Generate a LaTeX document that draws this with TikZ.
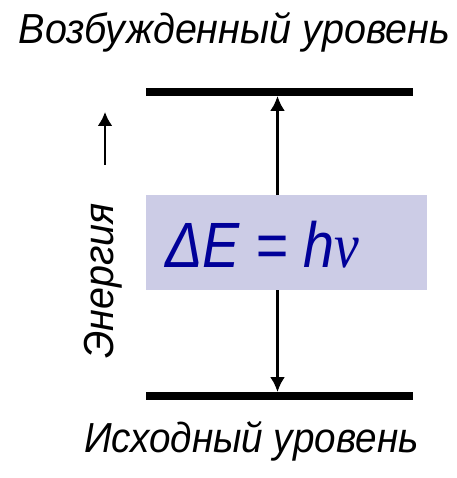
\documentclass[tikz,border=0pt]{standalone}
\usepackage{fontspec}
\setmainfont{Liberation Sans}
\newfontfamily\grfont{Liberation Serif}
\usetikzlibrary{arrows.meta}
\definecolor{boxfill}{RGB}{204,204,230}
\definecolor{formula}{RGB}{0,0,153}
\newcommand\narrow[1]{\scalebox{0.94}[1]{#1}}
\begin{document}
\begin{tikzpicture}[x=1pt,y=-1pt,
  level/.style={fill=black,inner sep=0pt,minimum width=267pt,minimum height=8pt},
  lbl/.style={font=\fontsize{42}{48}\selectfont\itshape,inner sep=0pt,anchor=base}]
  \useasboundingbox (0,0) rectangle (456,478);
  \node[lbl] (upper) at (234.5,44) {\narrow{Возбужденный уровень}};
  \node[lbl] (lower) at (251.5,452) {\scalebox{0.92}[1]{Исходный уровень}};
  \node[level] (top) at (279.5,92) {};
  \node[level] (bot) at (279.5,396) {};
  \coordinate (a) at (277.5,96);
  \coordinate (b) at (277.5,392);
  \draw[line width=2.5pt,{Latex[length=15pt,width=15pt]}-{Latex[length=15pt,width=15pt]}] (a) -- (b);
  \node[fill=boxfill,minimum width=281pt,minimum height=95pt,inner sep=0pt] (box) at (286.5,242.5) {};
  \node[text=formula,font=\fontsize{64}{70}\selectfont\itshape,anchor=base west,inner sep=0pt] (dE) at (165,267) {\scalebox{0.87}[1]{ΔE = h{\grfont ν}}};
  % energy axis
  \coordinate (e1) at (105,165);
  \coordinate (e2) at (105,112);
  \draw[line width=2.5pt,-{Latex[length=14pt,width=15pt]}] (e1) -- (e2);
  \node[lbl,rotate=90] (energy) at (113,281) {\narrow{Энергия}};
\end{tikzpicture}
\end{document}
